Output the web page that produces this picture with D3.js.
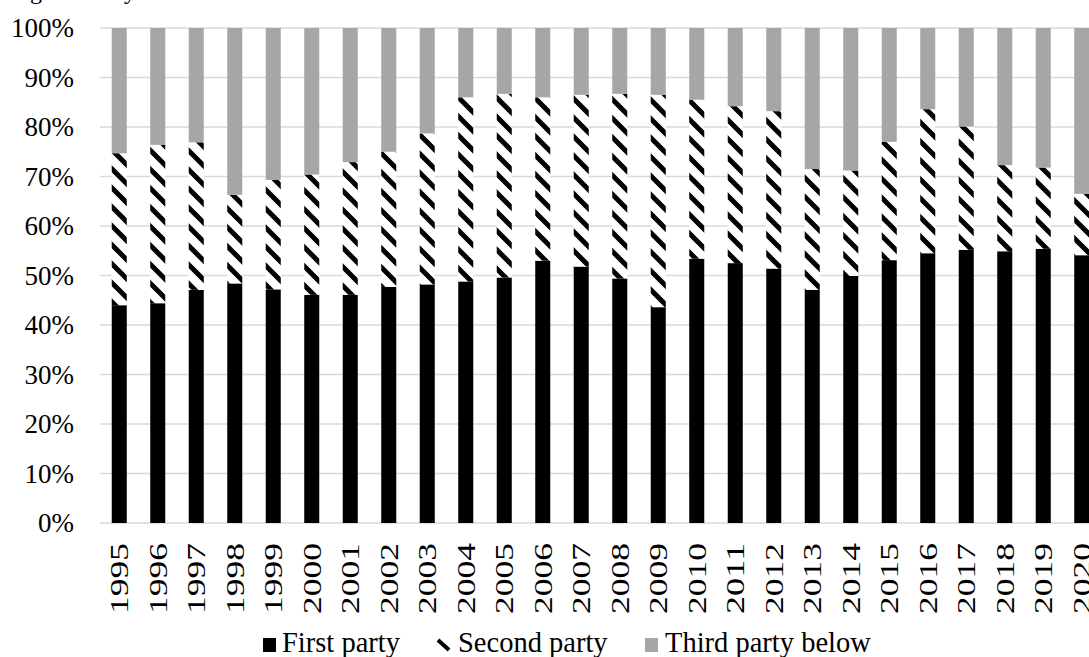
<!DOCTYPE html>
<html>
<head>
<meta charset="utf-8">
<script src="https://cdn.jsdelivr.net/npm/d3@7"></script>
<style>
  html, body { margin: 0; padding: 0; background: #fff; overflow: hidden; }
  svg { display: block; font-family: "Liberation Serif", "Times New Roman", serif; }
</style>
</head>
<body>
<svg id="chart" width="1089" height="657"></svg>
<script>
const years = ["1995","1996","1997","1998","1999","2000","2001","2002","2003","2004","2005","2006","2007","2008","2009","2010","2011","2012","2013","2014","2015","2016","2017","2018","2019","2020"];
const firstParty  = [44.0,44.4,47.1,48.4,47.2,46.1,46.1,47.7,48.2,48.8,49.6,53.0,51.8,49.4,43.6,53.4,52.5,51.4,47.1,49.9,53.1,54.5,55.2,54.9,55.4,54.1];
const secondParty = [30.7,32.0,29.8,17.9,22.1,24.3,26.8,27.3,30.5,37.2,37.1,33.0,34.7,37.3,42.9,32.1,31.7,31.8,24.4,21.3,23.9,29.1,24.9,17.4,16.4,12.4];
const thirdParty  = [25.3,23.6,23.1,33.7,30.7,29.6,27.1,25.0,21.3,14.0,13.3,14.0,13.5,13.3,13.5,14.5,15.8,16.8,28.5,28.8,23.0,16.4,19.9,27.7,28.2,33.5];
const yTicks = [0,10,20,30,40,50,60,70,80,90,100];
const seriesNames = ["First party","Second party","Third party below"];

const svg = d3.select("#chart");
const plotLeft = 100, plotRight = 1101, plotTop = 28, plotBottom = 523;

const defs = svg.append("defs");
const pat = defs.append("pattern")
  .attr("id","hatch").attr("patternUnits","userSpaceOnUse")
  .attr("width",19).attr("height",19);
pat.append("rect").attr("width",19).attr("height",19).attr("fill","#fff");
pat.append("path")
  .attr("d","M-2,-2 L21,21 M14,-5 L24,5 M-5,14 L5,24")
  .attr("stroke","#000").attr("stroke-width",5);

const x = d3.scaleBand().domain(years).range([plotLeft, plotRight]).paddingInner(0.61).paddingOuter(0.305);
const y = d3.scaleLinear().domain([0,100]).range([plotBottom, plotTop]);

// title fragment (cut off at top)
svg.append("text").attr("x",10).attr("y",-1)
  .attr("font-size",24).attr("fill","#000").text("Figure: Party");

// gridlines
svg.append("g").selectAll("line").data(yTicks).join("line")
  .attr("x1",plotLeft).attr("x2",plotRight)
  .attr("y1",d=>y(d)).attr("y2",d=>y(d))
  .attr("stroke","#d9d9d9").attr("stroke-width",1.5);

const rows = years.map((yr,i)=>({year:yr, first:firstParty[i], second:secondParty[i], third:thirdParty[i]}));
const stack = d3.stack().keys(["first","second","third"])(rows);
const fills = ["#000","url(#hatch)","#a6a6a6"];

svg.append("g").selectAll("g").data(stack).join("g")
  .attr("fill",(d,i)=>fills[i])
  .selectAll("rect").data(d=>d).join("rect")
  .attr("x",d=>x(d.data.year))
  .attr("width",x.bandwidth())
  .attr("y",d=>y(d[1]))
  .attr("height",d=>y(d[0])-y(d[1]));

// y axis labels
svg.append("g").selectAll("text").data(yTicks).join("text")
  .attr("x",74).attr("y",d=>y(d)).attr("dy","0.35em")
  .attr("text-anchor","end").attr("font-size",27).attr("fill","#000")
  .text(d=>d+"%");

// x axis labels
svg.append("g").selectAll("text").data(years).join("text")
  .attr("transform",d=>`translate(${x(d)+x.bandwidth()/2},543) rotate(-90)`)
  .attr("dy","0.35em").attr("text-anchor","end")
  .attr("font-size",26).attr("fill","#000")
  .attr("textLength",71).attr("lengthAdjust","spacingAndGlyphs")
  .text(d=>d);

// legend
const lg = svg.append("g");
const legendX = [263, 437, 645];
const textX = [282, 458, 665];
lg.append("rect").attr("x",legendX[0]).attr("y",638).attr("width",13).attr("height",14).attr("fill","#000");
lg.append("line").attr("x1",legendX[1]+1).attr("y1",640).attr("x2",legendX[1]+12).attr("y2",650)
  .attr("stroke","#000").attr("stroke-width",4);
lg.append("rect").attr("x",legendX[2]).attr("y",638).attr("width",13).attr("height",14).attr("fill","#a6a6a6");
lg.selectAll("text").data(seriesNames).join("text")
  .attr("x",(d,i)=>textX[i]).attr("y",652)
  .attr("font-size",28.5).attr("fill","#000").text(d=>d);
</script>
</body>
</html>
